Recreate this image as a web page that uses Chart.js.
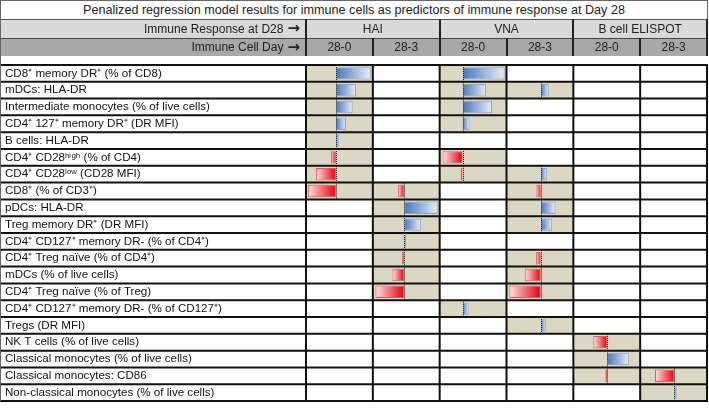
<!DOCTYPE html>
<html>
<head>
<meta charset="utf-8">
<title>Penalized regression model results</title>
<script src="https://cdn.jsdelivr.net/npm/chart.js@4/dist/chart.umd.min.js"></script>
<style>
  body { margin: 0; background: #fff; font-family: "Liberation Sans", Arial, sans-serif; color: #222; }
  #wrap { position: relative; width: 709px; height: 411px; overflow: hidden; }
  #chart { position: absolute; left: 0; top: 55px; }
  .cell { position: absolute; box-sizing: border-box; font-size: 12px; line-height: 1; display: flex; align-items: center; justify-content: center; white-space: nowrap; }
  .title { font-size: 12.6px; }
  .lbl { justify-content: flex-end; padding-right: 6px; }
  .arrow { font-family: "DejaVu Sans", sans-serif; font-weight: bold; font-size: 15px; margin-left: 4px; line-height: 1; }
  .line { position: absolute; background: #333; }
</style>
</head>
<body>
<div id="wrap">
  <canvas id="chart" width="709" height="356"></canvas>
</div>
<script>
const chartTitle = "Penalized regression model results for immune cells as predictors of immune response at Day 28";
const responseLabel = "Immune Response at D28";
const dayLabel = "Immune Cell Day";
const responses = ["HAI", "VNA", "B cell ELISPOT"];
const cellDays = ["28-0", "28-3"];

const cellTypes = [
  "CD8⁺ memory DR⁺ (% of CD8)",
  "mDCs: HLA-DR",
  "Intermediate monocytes (% of live cells)",
  "CD4⁺ 127⁺ memory DR⁺ (DR MFI)",
  "B cells: HLA-DR",
  "CD4⁺ CD28ʰⁱᵍʰ (% of CD4)",
  "CD4⁺ CD28ˡᵒʷ (CD28 MFI)",
  "CD8⁺ (% of CD3⁺)",
  "pDCs: HLA-DR",
  "Treg memory DR⁺ (DR MFI)",
  "CD4⁺ CD127⁺ memory DR- (% of CD4⁺)",
  "CD4⁺ Treg naïve (% of CD4⁺)",
  "mDCs (% of live cells)",
  "CD4⁺ Treg naïve (% of Treg)",
  "CD4⁺ CD127⁺ memory DR- (% of CD127⁺)",
  "Tregs (DR MFI)",
  "NK T cells (% of live cells)",
  "Classical monocytes (% of live cells)",
  "Classical monocytes: CD86",
  "Non-classical monocytes (% of live cells)"
];

// coefficients per model (null = not selected)
const hai280 = [0.52, 0.30, 0.25, 0.15, 0.05, -0.075, -0.30, -0.42, null, null, null, null, null, null, null, null, null, null, null, null];
const hai283 = [null, null, null, null, null, null, null, -0.09, 0.50, 0.25, 0.03, -0.035, -0.175, -0.43, null, null, null, null, null, null];
const vna280 = [0.63, 0.35, 0.44, 0.105, null, -0.30, -0.03, null, null, null, null, null, null, null, 0.09, null, null, null, null, null];
const vna283 = [null, 0.12, null, null, null, null, 0.09, -0.065, 0.22, 0.17, null, -0.07, -0.24, -0.47, null, 0.075, null, null, null, null];
const elispot280 = [null, null, null, null, null, null, null, null, null, null, null, null, null, null, null, null, -0.205, 0.325, -0.025, null];
const elispot283 = [null, null, null, null, null, null, null, null, null, null, null, null, null, null, null, null, null, null, -0.29, 0.035];

const models = [hai280, hai283, vna280, vna283, elispot280, elispot283];
const axisMin = [-0.448, -0.469, -0.343, -0.513, -0.505, -0.512];

const tan = "#dcd7c3";
const gridColor = "#111";

function barFill(ctx) {
  const chart = ctx.chart;
  const v = ctx.raw;
  if (v == null || !chart.chartArea) return "transparent";
  const sc = chart.scales["x" + ctx.datasetIndex];
  const x0 = sc.getPixelForValue(0);
  const x1 = sc.getPixelForValue(v);
  const g = chart.ctx.createLinearGradient(x0, 0, x1, 0);
  if (v >= 0) {
    g.addColorStop(0, "#4676bd");
    g.addColorStop(1, "#e8eef8");
  } else {
    g.addColorStop(0, "#e6000e");
    g.addColorStop(1, "#ffe2e2");
  }
  return g;
}

function barBorder(ctx) {
  return ctx.raw >= 0 ? "#87a3d0" : "#e45a5a";
}

const tablePlugin = {
  id: "table",
  beforeDatasetsDraw(chart) {
    const { ctx, scales } = chart;
    const y = scales.y;
    const rowH = y.height / cellTypes.length;
    ctx.save();
    models.forEach((vals, c) => {
      const sc = scales["x" + c];
      vals.forEach((v, r) => {
        if (v == null) return;
        const top = y.getPixelForValue(r) - rowH / 2;
        ctx.fillStyle = tan;
        ctx.fillRect(sc.left, top, sc.width, rowH);
      });
    });
    ctx.restore();
  },
  afterDatasetsDraw(chart) {
    const { ctx, scales, chartArea: a } = chart;
    const y = scales.y;
    const rowH = y.height / cellTypes.length;
    ctx.save();
    // dotted zero lines
    ctx.strokeStyle = "#222";
    ctx.lineWidth = 1;
    ctx.setLineDash([1, 1]);
    models.forEach((vals, c) => {
      const sc = scales["x" + c];
      const zx = Math.round(sc.getPixelForValue(0)) + 0.5;
      vals.forEach((v, r) => {
        if (v == null) return;
        const top = y.getPixelForValue(r) - rowH / 2;
        ctx.beginPath();
        ctx.moveTo(zx, top);
        ctx.lineTo(zx, top + rowH);
        ctx.stroke();
      });
    });
    ctx.setLineDash([]);
    // grid
    ctx.strokeStyle = gridColor;
    ctx.lineWidth = 2;
    for (let r = 0; r <= cellTypes.length; r++) {
      const yy = a.top + r * rowH;
      ctx.beginPath();
      ctx.moveTo(0, yy);
      ctx.lineTo(a.right + 1, yy);
      ctx.stroke();
    }
    const xs = [a.left];
    models.forEach((vals, c) => xs.push(scales["x" + c].right));
    xs.forEach((xx) => {
      ctx.beginPath();
      ctx.moveTo(xx, a.top - 1);
      ctx.lineTo(xx, a.bottom + 1);
      ctx.stroke();
    });
    ctx.strokeStyle = "#666";
    ctx.lineWidth = 1;
    ctx.beginPath();
    ctx.moveTo(0.5, 0);
    ctx.lineTo(0.5, a.bottom);
    ctx.stroke();
    ctx.restore();
  }
};

const xScales = {};
models.forEach((vals, c) => {
  xScales["x" + c] = {
    type: "linear",
    position: "bottom",
    stack: "days",
    stackWeight: 1,
    min: axisMin[c],
    max: axisMin[c] + 1,
    display: false
  };
});

const chart = new Chart(document.getElementById("chart"), {
  type: "bar",
  data: {
    labels: cellTypes,
    datasets: models.map((vals, c) => ({
      label: responses[Math.floor(c / 2)] + " " + cellDays[c % 2],
      data: vals,
      xAxisID: "x" + c,
      grouped: false,
      categoryPercentage: 1,
      barPercentage: 0.74,
      backgroundColor: barFill,
      borderColor: barBorder,
      borderWidth: 1,
      borderSkipped: false
    }))
  },
  options: {
    indexAxis: "y",
    responsive: false,
    animation: false,
    layout: { padding: { left: 5, right: 2, top: 1, bottom: 3 } },
    plugins: { legend: { display: false }, tooltip: { enabled: false } },
    scales: {
      y: {
        type: "category",
        position: "left",
        offset: true,
        grid: { display: false },
        border: { display: false },
        ticks: {
          crossAlign: "far",
          color: "#111",
          font: { family: "'Liberation Sans', Arial, sans-serif", size: 11.6 },
          autoSkip: false
        },
        afterFit(scale) { scale.width = 301; }
      },
      ...xScales
    }
  },
  plugins: [tablePlugin]
});

// header built on the chart's own column positions
function buildHeader() {
  const wrap = document.getElementById("wrap");
  const add = (cls, x, y, w, h, html, bg) => {
    const d = document.createElement("div");
    d.className = cls;
    Object.assign(d.style, { left: x + "px", top: y + "px", width: w + "px", height: h + "px" });
    if (bg) d.style.background = bg;
    if (html != null) d.innerHTML = html;
    wrap.appendChild(d);
    return d;
  };
  const a = chart.chartArea;
  const cols = models.map((v, c) => chart.scales["x" + c]);
  const right = a.right + 1;
  add("cell title", 0, 0, right, 20, chartTitle, "#fff");
  add("cell lbl", 0, 19, a.left, 19, responseLabel + '<span class="arrow">→</span>', "#d9d9d9");
  add("cell lbl", 0, 38, a.left, 18, dayLabel + '<span class="arrow">→</span>', "#a8a8a8");
  responses.forEach((r, i) => {
    const l = cols[i * 2].left, rr = cols[i * 2 + 1].right;
    add("cell", l, 19, rr - l, 19, r, "#d9d9d9");
  });
  cols.forEach((sc, c) => add("cell", sc.left, 38, sc.width, 18, cellDays[c % 2], "#a8a8a8"));
  // header rules
  add("line", 0, 0, right, 1, null, "#666");
  add("line", 0, 19, right, 1, null, "#555");
  add("line", 0, 37.5, right, 1.5, null, "#444");
  add("line", 0, 0, 1, 56, null, "#666");
  add("line", right - 1, 0, 1, 19, null, "#666");
  add("line", a.left - 1, 19, 2, 37, null, "#222");
  responses.forEach((r, i) => add("line", cols[i * 2 + 1].right - 1, 19, 2, 37, null, "#222"));
  cols.forEach((sc) => add("line", sc.right - 1, 38, 2, 18, null, "#222"));
}
buildHeader();
</script>
</body>
</html>
